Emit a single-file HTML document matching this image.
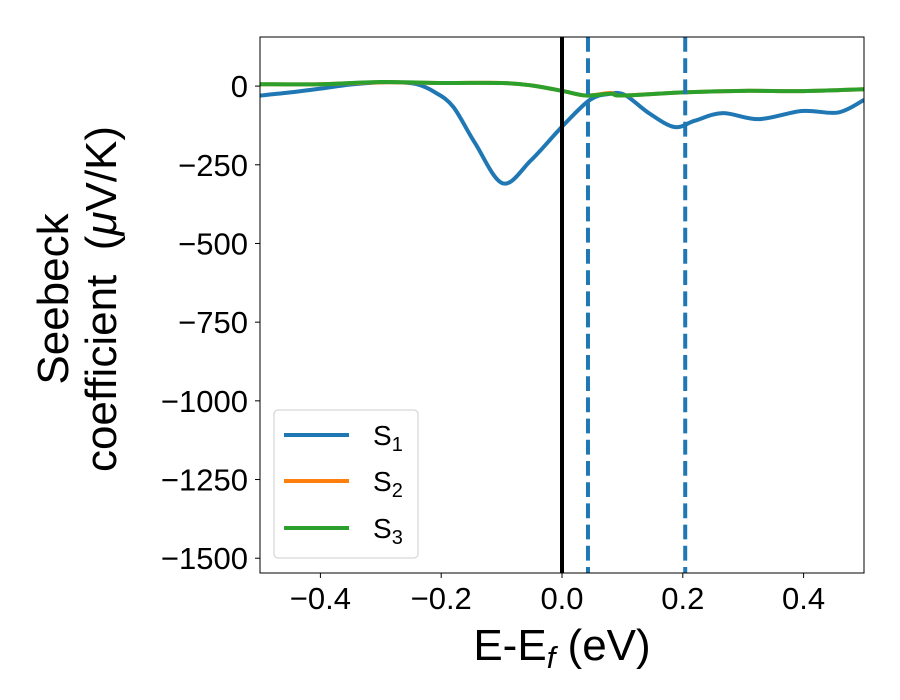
<!DOCTYPE html>
<html><head><meta charset="utf-8">
<style>
html,body{margin:0;padding:0;background:#fff;}
svg{display:block;font-family:"Liberation Sans","DejaVu Sans",sans-serif;}
</style></head>
<body>
<svg id="chart" width="900" height="700" viewBox="0 0 900 700"></svg>
<script>
const xTicks=[-0.4,-0.2,0.0,0.2,0.4];
const xTickLabels=["\u22120.4","\u22120.2","0.0","0.2","0.4"];
const yTicks=[0,-250,-500,-750,-1000,-1250,-1500];
const yTickLabels=["0","\u2212250","\u2212500","\u2212750","\u22121000","\u22121250","\u22121500"];
const s1X=[-0.5,-0.45,-0.4,-0.35,-0.3,-0.27,-0.24,-0.21,-0.18,-0.144,-0.098,-0.051,0.0,0.046,0.078,0.104,0.144,0.186,0.22,0.266,0.326,0.397,0.457,0.5];
const s1Y=[-30,-20,-8,5,12,12,6,-20,-66,-181,-309,-235,-129,-44,-25,-28,-86,-130,-110,-86,-105,-79,-84,-44];
const s2X=[-0.5,-0.4,-0.3,-0.2,-0.1,-0.05,0.0,0.04,0.08,0.1,0.2,0.3,0.4,0.5];
const s2Y=[6,6,12,10,10,2,-15,-30,-22,-30,-20,-15,-16,-10];
const s3X=[-0.5,-0.4,-0.3,-0.2,-0.1,-0.05,0.0,0.04,0.08,0.1,0.2,0.3,0.4,0.5];
const s3Y=[6,6,13,10,10,2,-15,-30,-24,-30,-20,-15,-16,-10];
const vLines=[0.043,0.204];

const L=260,R=864,T=37,B=573;
const xMin=-0.5,xMax=0.5,yMax=156,yMin=-1547;
const sx=v=>L+(v-xMin)/(xMax-xMin)*(R-L);
const sy=v=>T+(yMax-v)/(yMax-yMin)*(B-T);
const NS="http://www.w3.org/2000/svg";
const svg=document.getElementById('chart');
function mk(tag,attrs,parent){const e=document.createElementNS(NS,tag);for(const k in attrs)e.setAttribute(k,attrs[k]);(parent||svg).appendChild(e);return e;}
function smooth(xs,ys){
  const p=xs.map((x,i)=>[sx(x),sy(ys[i])]);
  let d="M"+p[0][0]+","+p[0][1];
  for(let i=0;i<p.length-1;i++){
    const p0=p[Math.max(0,i-1)],p1=p[i],p2=p[i+1],p3=p[Math.min(p.length-1,i+2)];
    const c1=[p1[0]+(p2[0]-p0[0])/6,p1[1]+(p2[1]-p0[1])/6];
    const c2=[p2[0]-(p3[0]-p1[0])/6,p2[1]-(p3[1]-p1[1])/6];
    d+=" C"+c1[0]+","+c1[1]+" "+c2[0]+","+c2[1]+" "+p2[0]+","+p2[1];
  }
  return d;
}
const defs=mk('defs',{});
const cp=mk('clipPath',{id:'clip'},defs);
mk('rect',{x:L,y:T,width:R-L,height:B-T},cp);
const g=mk('g',{'clip-path':'url(#clip)'});



const p1=mk('path',{d:smooth(s1X,s1Y),fill:'none',stroke:'#1f77b4','stroke-width':4},g);


const p2=mk('path',{d:smooth(s2X,s2Y),fill:'none',stroke:'#ff7f0e','stroke-width':4},g);


const p3=mk('path',{d:smooth(s3X,s3Y),fill:'none',stroke:'#2ca02c','stroke-width':4},g);



const zl=mk('line',{x1:sx(0),x2:sx(0),y1:T,y2:B,stroke:'#000','stroke-width':4},g);


vLines.forEach(v=>{
  const l=mk('line',{x1:sx(v),x2:sx(v),y1:T,y2:B,stroke:'#1f77b4','stroke-width':4,'stroke-dasharray':'14.8,6.4'},g);
  
  
});

const frame=mk('rect',{x:L,y:T,width:R-L,height:B-T,fill:'none',stroke:'#000','stroke-width':1});



xTicks.forEach((v,i)=>{
  const x=sx(v);
  const t=mk('line',{x1:x,x2:x,y1:B,y2:B+5,stroke:'#000','stroke-width':1});
  
  
  const tx=mk('text',{x:x,y:B+36,'text-anchor':'middle','font-size':31,fill:'#000'});
  tx.textContent=xTickLabels[i];
  
  
});
yTicks.forEach((v,i)=>{
  const y=sy(v);
  const t=mk('line',{x1:L-5,x2:L,y1:y,y2:y,stroke:'#000','stroke-width':1});
  
  
  const tx=mk('text',{x:L-12,y:y+11,'text-anchor':'end','font-size':31,fill:'#000'});
  tx.textContent=yTickLabels[i];
  
  
});

const xl=mk('text',{x:562,y:660,'text-anchor':'middle','font-size':44,fill:'#000'});
xl.innerHTML='E-E<tspan font-style="italic" font-size="31" dy="8">f</tspan><tspan dy="-8"> (eV)</tspan>';



const yl=mk('text',{transform:'translate(68,299) rotate(-90)','text-anchor':'middle','font-size':44,fill:'#000',style:'white-space:pre'});
yl.innerHTML='<tspan x="0" dy="0">Seebeck</tspan><tspan x="0" dy="48">coefficient  (<tspan font-style="italic">\u03bc</tspan>V/K)</tspan>';



const lg=mk('g',{});


mk('rect',{x:274,y:410,width:144,height:148,rx:4,fill:'#fff','fill-opacity':0.8,stroke:'#ccc','stroke-width':1},lg);
const names=['1','2','3'],cols=['#1f77b4','#ff7f0e','#2ca02c'],ys=[435,481,528];
names.forEach((n,i)=>{
  const e=mk('g',{},lg);
  
  
  mk('line',{x1:284,x2:349,y1:ys[i],y2:ys[i],stroke:cols[i],'stroke-width':4},e);
  const t=mk('text',{x:373,y:ys[i]+10,'font-size':28,fill:'#000'},e);
  t.innerHTML='S<tspan font-size="20" dy="6">'+n+'</tspan>';
});
</script>
</body></html>
